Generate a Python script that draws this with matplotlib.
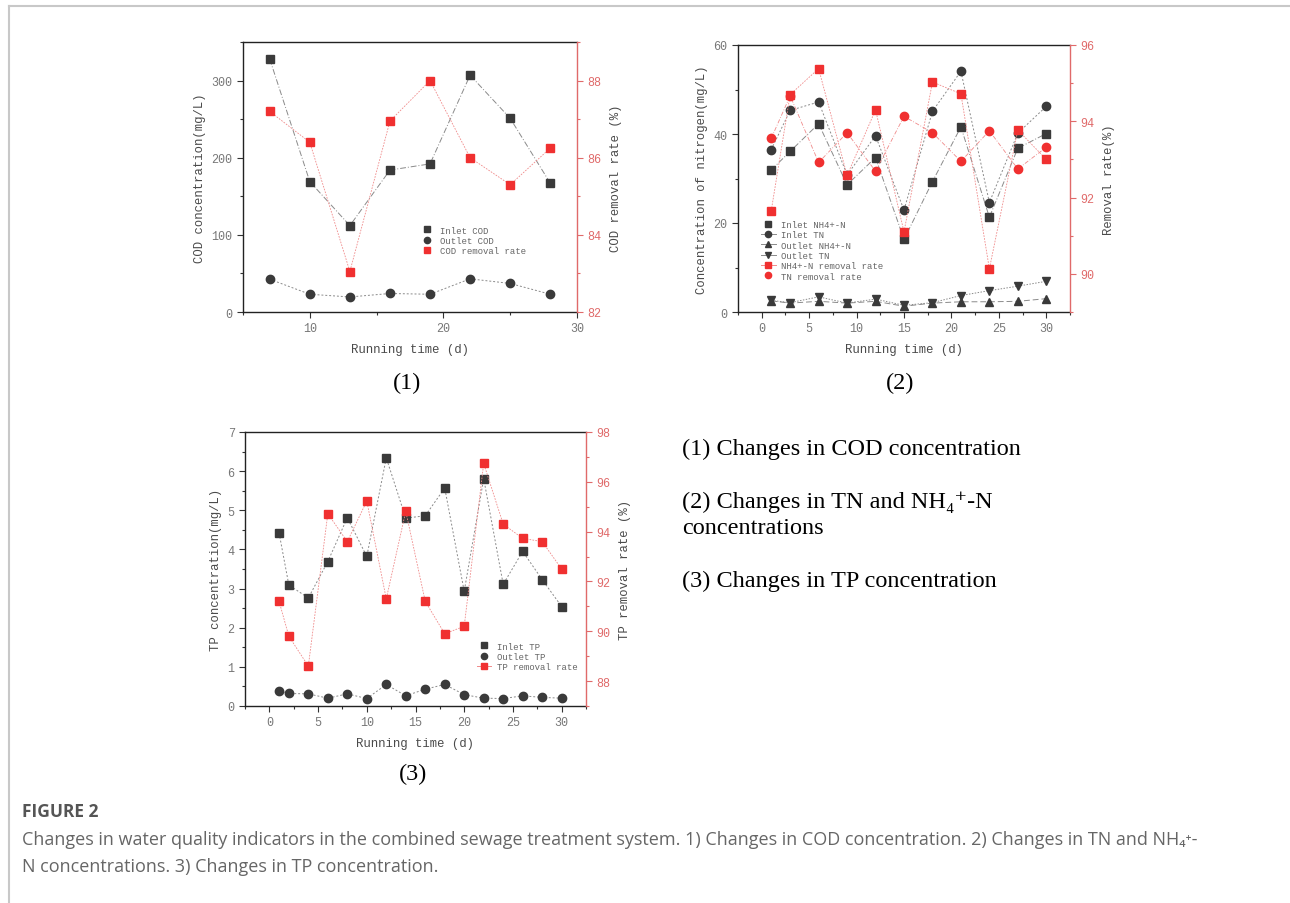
import numpy as np
import matplotlib
matplotlib.use("Agg")
import matplotlib.pyplot as plt
from matplotlib.lines import Line2D
from matplotlib.ticker import MultipleLocator

# ---- panel 1: COD ----
cod_days = [7, 10, 13, 16, 19, 22, 25, 28]
cod_inlet = [328, 169, 112, 184, 192, 307, 251, 167]
cod_outlet = [42.5, 23, 19.5, 24, 23, 43, 37, 23]
cod_removal = [87.2, 86.4, 83.05, 86.95, 88.0, 86.0, 85.3, 86.25]

# ---- panel 2: nitrogen ----
n_days = [1, 3, 6, 9, 12, 15, 18, 21, 24, 27, 30]
nh4_inlet = [31.9, 36.1, 42.3, 28.6, 34.7, 16.3, 29.3, 41.6, 21.3, 36.8, 40.1]
tn_inlet = [36.5, 45.3, 47.2, 30.8, 39.6, 22.9, 45.1, 54.1, 24.6, 40.2, 46.2]
nh4_outlet = [2.5, 2.0, 2.4, 2.0, 2.4, 1.3, 2.0, 2.3, 2.3, 2.4, 3.0]
tn_outlet = [2.6, 2.1, 3.4, 2.0, 2.9, 1.5, 2.1, 3.7, 4.8, 5.8, 6.9]
nh4_removal = [91.65, 94.7, 95.38, 92.58, 94.3, 91.1, 95.03, 94.72, 90.13, 93.77, 93.0]
tn_removal = [93.55, 94.67, 92.92, 93.7, 92.69, 94.13, 93.7, 92.95, 93.75, 92.75, 93.32]

# ---- panel 3: TP ----
tp_days = [1, 2, 4, 6, 8, 10, 12, 14, 16, 18, 20, 22, 24, 26, 28, 30]
tp_inlet = [4.42, 3.09, 2.76, 3.69, 4.81, 3.82, 6.34, 4.80, 4.86, 5.57, 2.93, 5.81, 3.11, 3.95, 3.23, 2.54]
tp_outlet = [0.39, 0.32, 0.31, 0.20, 0.31, 0.19, 0.55, 0.26, 0.43, 0.55, 0.29, 0.20, 0.19, 0.26, 0.22, 0.20]
tp_removal = [91.2, 89.8, 88.6, 94.72, 93.6, 95.23, 91.3, 94.82, 91.2, 89.9, 90.2, 96.74, 94.3, 93.73, 93.6, 92.5]

W, H = 1290, 904
fig = plt.figure(figsize=(W / 100, H / 100), dpi=100)

MONO = ["Liberation Mono", "DejaVu Sans Mono"]
SERIF = ["Liberation Serif", "DejaVu Serif"]
SANS = ["Open Sans", "DejaVu Sans"]
DARK = "#3a3a3a"
LINE_GRAY = "#8a8a8a"
RED = "#f03030"
LINE_RED = "#f08a8a"
RED_AX = "#e06a6a"
GRAY_TXT = "#777777"
LAB_COL = "#4a4a4a"


def px_axes(l, t, r, b):
    return fig.add_axes([l / W, 1 - b / H, (r - l) / W, (b - t) / H])


def style_axes(ax, ax2):
    for s in ["left", "bottom", "top"]:
        ax.spines[s].set_color("#222222")
        ax.spines[s].set_linewidth(1.0)
    ax.spines["right"].set_visible(False)
    for s in ["left", "bottom", "top"]:
        ax2.spines[s].set_visible(False)
    ax2.spines["right"].set_color(RED_AX)
    ax2.spines["right"].set_linewidth(1.0)
    ax.tick_params(which="both", direction="out", colors="#333333", labelcolor=GRAY_TXT,
                   labelsize=8.5, width=0.8)
    ax.tick_params(which="major", length=4)
    ax.tick_params(which="minor", length=2)
    ax2.tick_params(which="both", direction="out", colors=RED_AX, labelcolor=RED_AX,
                    labelsize=8.5, width=0.8)
    ax2.tick_params(which="major", length=4)
    ax2.tick_params(which="minor", length=2)
    for lab in ax.get_xticklabels() + ax.get_yticklabels() + ax2.get_yticklabels():
        lab.set_family(MONO)


def series(ax, x, y, marker, mcol, lcol, ls, lw=0.7):
    ax.plot(x, y, color=lcol, lw=lw, ls=ls, marker=marker, ms=6,
            mfc=mcol, mec=mcol)


def leg_handle(marker, color, ls="none", lcol=None):
    return Line2D([], [], marker=marker, color=lcol or color, markerfacecolor=color,
                  markeredgecolor=color, markersize=4.5, linestyle=ls, linewidth=0.7)


def add_legend(ax, handles, labels, anchor):
    leg = ax.legend(handles, labels, loc="upper left", bbox_to_anchor=anchor,
                    frameon=False, prop={"family": MONO, "size": 6.5},
                    labelspacing=0.15, handlelength=1.6, handletextpad=0.6,
                    borderpad=0, borderaxespad=0)
    for t in leg.get_texts():
        t.set_color("#666666")
    return leg


def labels(ax, ax2, left, right):
    ax.set_xlabel("Running time (d)", family=MONO, fontsize=8.8, color=LAB_COL, labelpad=6)
    ax.set_ylabel(left, family=MONO, fontsize=8.8, color=LAB_COL, labelpad=4)
    ax2.set_ylabel(right, family=MONO, fontsize=8.8, color=LAB_COL, labelpad=6)


# ---------------- panel 1 ----------------
ax1 = px_axes(243, 43, 577, 313)
ax1b = ax1.twinx()
series(ax1, cod_days, cod_inlet, "s", DARK, LINE_GRAY, (0, (6, 2, 1, 2)))
series(ax1, cod_days, cod_outlet, "o", DARK, LINE_GRAY, (0, (2, 2)))
series(ax1b, cod_days, cod_removal, "s", RED, LINE_RED, (0, (2, 1.5)), 0.6)
ax1.set_xlim(5, 30)
ax1.set_ylim(0, 350)
ax1b.set_ylim(82, 89)
ax1.xaxis.set_major_locator(MultipleLocator(10))
ax1.xaxis.set_minor_locator(MultipleLocator(5))
ax1.yaxis.set_major_locator(MultipleLocator(100))
ax1.yaxis.set_minor_locator(MultipleLocator(50))
ax1b.yaxis.set_major_locator(MultipleLocator(2))
ax1b.yaxis.set_minor_locator(MultipleLocator(1))
style_axes(ax1, ax1b)
labels(ax1, ax1b, "COD concentration(mg/L)", "COD removal rate (%)")
add_legend(ax1, [leg_handle("s", DARK), leg_handle("o", DARK), leg_handle("s", RED)],
           ["Inlet COD", "Outlet COD", "COD removal rate"], (0.53, 0.32))

# ---------------- panel 2 ----------------
ax2 = px_axes(738, 46, 1070, 313)
ax2b = ax2.twinx()
series(ax2, n_days, nh4_inlet, "s", DARK, LINE_GRAY, (0, (6, 2, 1, 2)))
series(ax2, n_days, tn_inlet, "o", DARK, LINE_GRAY, (0, (2, 2)))
series(ax2, n_days, nh4_outlet, "^", DARK, LINE_GRAY, (0, (6, 3)))
series(ax2, n_days, tn_outlet, "v", DARK, LINE_GRAY, (0, (1.5, 1.5)))
series(ax2b, n_days, nh4_removal, "s", RED, LINE_RED, (0, (2, 1.5)), 0.6)
series(ax2b, n_days, tn_removal, "o", RED, LINE_RED, (0, (5, 2, 1, 2)), 0.6)
ax2.set_xlim(-2.5, 32.5)
ax2.set_ylim(0, 60)
ax2b.set_ylim(89, 96)
ax2.xaxis.set_major_locator(MultipleLocator(5))
ax2.xaxis.set_minor_locator(MultipleLocator(2.5))
ax2.yaxis.set_major_locator(MultipleLocator(20))
ax2.yaxis.set_minor_locator(MultipleLocator(10))
ax2b.yaxis.set_major_locator(MultipleLocator(2))
ax2b.yaxis.set_minor_locator(MultipleLocator(1))
style_axes(ax2, ax2b)
labels(ax2, ax2b, "Concentration of nitrogen(mg/L)", "Removal rate(%)")
add_legend(ax2,
           [leg_handle("s", DARK), leg_handle("o", DARK, "-", LINE_GRAY),
            leg_handle("^", DARK, "-", LINE_GRAY), leg_handle("v", DARK, "-", LINE_GRAY),
            leg_handle("s", RED, "-", LINE_RED), leg_handle("o", RED)],
           ["Inlet NH4+-N", "Inlet TN", "Outlet NH4+-N", "Outlet TN",
            "NH4+-N removal rate", "TN removal rate"], (0.07, 0.345))

# ---------------- panel 3 ----------------
ax3 = px_axes(245, 433, 586, 707)
ax3b = ax3.twinx()
series(ax3, tp_days, tp_inlet, "s", DARK, LINE_GRAY, (0, (2, 2)))
series(ax3, tp_days, tp_outlet, "o", DARK, LINE_GRAY, (0, (2, 2)))
series(ax3b, tp_days, tp_removal, "s", RED, LINE_RED, (0, (2, 1.5)), 0.6)
ax3.set_xlim(-2.5, 32.5)
ax3.set_ylim(0, 7)
ax3b.set_ylim(87, 98)
ax3.xaxis.set_major_locator(MultipleLocator(5))
ax3.xaxis.set_minor_locator(MultipleLocator(2.5))
ax3.yaxis.set_major_locator(MultipleLocator(1))
ax3.yaxis.set_minor_locator(MultipleLocator(0.5))
ax3b.yaxis.set_major_locator(MultipleLocator(2))
ax3b.yaxis.set_minor_locator(MultipleLocator(1))
style_axes(ax3, ax3b)
labels(ax3, ax3b, "TP concentration(mg/L)", "TP removal rate (%)")
add_legend(ax3, [leg_handle("s", DARK), leg_handle("o", DARK),
                 leg_handle("s", RED, "-", LINE_RED)],
           ["Inlet TP", "Outlet TP", "TP removal rate"], (0.68, 0.235))

# ---------------- panel labels and notes ----------------
fig.text(407 / W, 1 - 383 / H, "(1)", family=SERIF, fontsize=17.5, ha="center", va="center")
fig.text(900 / W, 1 - 383 / H, "(2)", family=SERIF, fontsize=17.5, ha="center", va="center")
fig.text(413 / W, 1 - 774 / H, "(3)", family=SERIF, fontsize=17.5, ha="center", va="center")

notes = [(449, "(1) Changes in COD concentration"),
         (502, "(2) Changes in TN and NH\u2084\u207a-N"),
         (529, "concentrations"),
         (581, "(3) Changes in TP concentration")]
for y, s in notes:
    fig.text(682 / W, 1 - y / H, s, family=SERIF, fontsize=17.5, ha="left", va="center")

# ---------------- caption ----------------
fig.text(22 / W, 1 - 812 / H, "FIGURE 2", family=SANS, fontsize=12.5, fontweight="bold",
         color="#555555", ha="left", va="center")
fig.text(22 / W, 1 - 840 / H,
         "Changes in water quality indicators in the combined sewage treatment system. "
         "1) Changes in COD concentration. 2) Changes in TN and NH\u2084\u207a-",
         family=SANS, fontsize=13, color="#666666", ha="left", va="center")
fig.text(22 / W, 1 - 867 / H, "N concentrations. 3) Changes in TP concentration.",
         family=SANS, fontsize=13, color="#666666", ha="left", va="center")

# page frame (left and top edges only)
fig.add_artist(Line2D([9 / W, 9 / W], [0, 1 - 7 / H], color="#c8c8c8", lw=1.5))
fig.add_artist(Line2D([9 / W, 1], [1 - 7 / H, 1 - 7 / H], color="#c8c8c8", lw=1.5))

fig.savefig("out.png", dpi=100)
